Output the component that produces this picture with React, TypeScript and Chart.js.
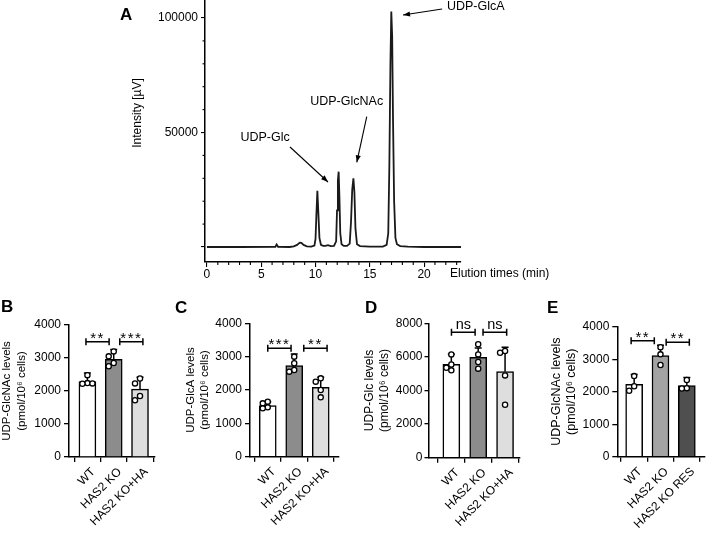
import React, { useEffect, useRef } from 'react';
import { Chart, registerables } from 'chart.js';
Chart.register(...registerables);

const FONT = '"Liberation Sans", Arial, Helvetica, sans-serif';
Chart.defaults.font.family = FONT;
Chart.defaults.color = '#000';

// ---------------- Panel A data (chromatogram) ----------------
const elutionTime = [0, 3, 6.3, 6.42, 6.55, 7.6, 8.0, 8.3, 8.55, 8.7, 8.9, 9.2, 9.6, 9.9, 10.0, 10.08, 10.17, 10.26, 10.36, 10.5, 10.7, 10.9, 11.15, 11.4, 11.7, 11.9, 11.98, 12.06, 12.13, 12.2, 12.28, 12.4, 12.6, 12.9, 13.15, 13.27, 13.38, 13.49, 13.58, 13.68, 13.82, 14.1, 15, 16.2, 16.55, 16.7, 16.8, 16.9, 16.98, 17.06, 17.14, 17.24, 17.36, 17.5, 17.8, 18.5, 20, 23.4];
const intensity = [0, 0, 100, 1100, 100, 0, 300, 900, 1900, 1800, 900, 300, 200, 600, 3500, 14000, 24600, 15000, 4000, 900, 500, 500, 800, 400, 500, 2500, 16000, 29000, 32900, 22000, 6000, 1200, 500, 500, 1500, 11000, 25000, 30000, 24000, 8000, 1200, 400, 200, 200, 900, 6000, 35000, 80000, 102800, 92000, 55000, 20000, 4000, 1200, 400, 150, 0, 0];
const aXTicks = [0, 5, 10, 15, 20];
const aYTicks = [0, 50000, 100000];
const peakNames = ['UDP-Glc', 'UDP-GlcNAc', 'UDP-GlcA'];

// ---------------- Panels B-E data ----------------
const groupsBCD = ['WT', 'HAS2 KO', 'HAS2 KO+HA'];
const groupsE = ['WT', 'HAS2 KO', 'HAS2 KO RES'];

const bMeans = [2289, 2957, 2056];
const bSD = [260, 300, 360];
const bPoints = [[2480, 2240, 2220, 2230], [3200, 3050, 2850, 2750], [2380, 2230, 1850, 1720]];
const bSig = [{ a: 0, b: 1, y: 3494, label: '**' }, { a: 1, b: 2, y: 3494, label: '***' }];

const cMeans = [1535, 2730, 2081];
const cSD = [110, 350, 300];
const cPoints = [[1650, 1600, 1480, 1450], [3000, 2800, 2600, 2550], [2350, 2250, 2000, 1780]];
const cSig = [{ a: 0, b: 1, y: 3250, label: '***' }, { a: 1, b: 2, y: 3250, label: '**' }];

const dMeans = [5556, 5972, 5119];
const dSD = [600, 560, 1450];
const dPoints = [[6150, 5550, 5350, 5200], [6750, 6150, 5700, 5300], [6350, 6250, 4900, 3150]];
const dSig = [{ a: 0, b: 1, y: 7464, label: 'ns' }, { a: 1, b: 2, y: 7464, label: 'ns' }];

const eMeans = [2226, 3108, 2185];
const eSD = [300, 320, 250];
const ePoints = [[2480, 2170, 2030], [3370, 3150, 2820], [2360, 2110, 2100]];
const eSig = [{ a: 0, b: 1, y: 3570, label: '**' }, { a: 1, b: 2, y: 3518, label: '**' }];

// ---------------- helpers ----------------
type Box = { l: number; t: number; w: number; h: number };
type Area = { l: number; t: number; r: number; b: number };

function drawArrow(ctx: CanvasRenderingContext2D, x1: number, y1: number, x2: number, y2: number) {
  ctx.beginPath();
  ctx.moveTo(x1, y1);
  ctx.lineTo(x2, y2);
  ctx.stroke();
  const a = Math.atan2(y2 - y1, x2 - x1);
  const L = 7, W = 2.6;
  ctx.beginPath();
  ctx.moveTo(x2, y2);
  ctx.lineTo(x2 - L * Math.cos(a) + W * Math.sin(a), y2 - L * Math.sin(a) - W * Math.cos(a));
  ctx.lineTo(x2 - L * Math.cos(a) - W * Math.sin(a), y2 - L * Math.sin(a) + W * Math.cos(a));
  ctx.closePath();
  ctx.fill();
}

function layoutFrom(box: Box, area: Area) {
  return {
    yAxisW: area.l - box.l,
    xAxisH: box.t + box.h - area.b,
    padding: { left: 0, top: area.t - box.t, right: box.l + box.w - area.r, bottom: 0 },
  };
}

// ---------------- Panel A ----------------
const A_BOX: Box = { l: 0, t: 0, w: 708, h: 300 };
const A_AREA: Area = { l: 205, t: 0, r: 461, b: 262 };
const A_ANN = [
  { text: [5.35, 48000], from: [7.65, 43670], to: [11.15, 28380], align: 'center' },
  { text: [12.87, 63450], from: [14.72, 56900], to: [13.8, 37000], align: 'center' },
  { text: [22.1, 104800], from: [21.66, 103900], to: [18.06, 101300], align: 'left' },
];

function buildA(canvas: HTMLCanvasElement) {
  const lay = layoutFrom(A_BOX, A_AREA);
  const decor = {
    id: 'decorA',
    afterDraw(chart: any) {
      const ctx: CanvasRenderingContext2D = chart.ctx;
      const xs = chart.scales.x, ys = chart.scales.y;
      const ca = chart.chartArea;
      ctx.save();
      ctx.strokeStyle = '#000';
      ctx.fillStyle = '#000';
      // minor ticks
      ctx.lineWidth = 1.1;
      for (let v = 1; v <= 23; v++) {
        if (v % 5 === 0) continue;
        const x = xs.getPixelForValue(v);
        ctx.beginPath(); ctx.moveTo(x, ca.bottom); ctx.lineTo(x, ca.bottom + 3); ctx.stroke();
      }
      for (let v = 10000; v <= 100000; v += 10000) {
        if (v % 50000 === 0) continue;
        const y = ys.getPixelForValue(v);
        ctx.beginPath(); ctx.moveTo(ca.left, y); ctx.lineTo(ca.left - 2.5, y); ctx.stroke();
      }
      // annotations
      ctx.font = `12.5px ${FONT}`;
      ctx.textBaseline = 'middle';
      ctx.lineWidth = 1.1;
      A_ANN.forEach((an, i) => {
        ctx.textAlign = an.align as CanvasTextAlign;
        ctx.fillText(peakNames[i], xs.getPixelForValue(an.text[0]), ys.getPixelForValue(an.text[1]));
        drawArrow(ctx, xs.getPixelForValue(an.from[0]), ys.getPixelForValue(an.from[1]), xs.getPixelForValue(an.to[0]), ys.getPixelForValue(an.to[1]));
      });
      // axis titles
      ctx.font = `12px ${FONT}`;
      ctx.textAlign = 'left';
      ctx.fillText('Elution times (min)', ca.right - 11, ca.bottom + 12);
      ctx.save();
      ctx.translate(138 - A_BOX.l, 113 - A_BOX.t);
      ctx.rotate(-Math.PI / 2);
      ctx.textAlign = 'center';
      ctx.fillText('Intensity [µV]', 0, 0);
      ctx.restore();
      // panel letter
      ctx.font = `bold 17px ${FONT}`;
      ctx.textBaseline = 'alphabetic';
      ctx.textAlign = 'left';
      ctx.fillText('A', 120 - A_BOX.l, 20 - A_BOX.t);
      ctx.restore();
    },
  };
  return new Chart(canvas, {
    type: 'line',
    data: {
      datasets: [{
        data: elutionTime.map((t, i) => ({ x: t, y: intensity[i] })),
        borderColor: '#1a1a1a',
        borderWidth: 1.8,
        pointRadius: 0,
        tension: 0,
        fill: false,
      }],
    },
    options: {
      responsive: false,
      animation: false,
      layout: { padding: lay.padding },
      plugins: { legend: { display: false }, tooltip: { enabled: false } },
      scales: {
        x: {
          type: 'linear',
          min: -0.18,
          max: 23.4,
          afterBuildTicks: (s: any) => { s.ticks = aXTicks.map((v) => ({ value: v })); },
          afterFit: (s: any) => { s.height = lay.xAxisH; s.paddingLeft = 0; s.paddingRight = 0; },
          ticks: { font: { size: 12, family: FONT }, color: '#000', padding: 0, maxRotation: 0, autoSkip: false, callback: (v: any) => String(v) },
          grid: { drawOnChartArea: false, tickLength: 5, color: '#000', lineWidth: 1.1 },
          border: { display: true, color: '#000', width: 1.5 },
        },
        y: {
          type: 'linear',
          min: -6550,
          max: 107860,
          afterBuildTicks: (s: any) => { s.ticks = aYTicks.map((v) => ({ value: v })); },
          afterFit: (s: any) => { s.width = lay.yAxisW; s.paddingTop = 0; s.paddingBottom = 0; },
          ticks: { font: { size: 12, family: FONT }, color: '#000', padding: 3, callback: (v: any) => (v === 0 ? '' : String(v)) },
          grid: { drawOnChartArea: false, tickLength: 4, color: '#000', lineWidth: 1.1 },
          border: { display: true, color: '#000', width: 1.5 },
        },
      },
    },
    plugins: [decor],
  });
}

// ---------------- Bar panels ----------------
type BarPanel = {
  letter: string;
  groups: string[];
  means: number[];
  sd: number[];
  points: number[][];
  sig: { a: number; b: number; y: number; label: string }[];
  yMax: number;
  yStep: number;
  title: string[];
  colors: string[];
  box: Box;
  area: Area;
  xRange: [number, number];
  letterPos: [number, number];
  titleX: [number, number];
  titleSize: number;
  bracketCenters: [number, number];
  yTickLen: number;
  yTickPad: number;
};

const BRACKET_HALF = 0.44;

const PANELS: BarPanel[] = [
  {
    letter: 'B', groups: groupsBCD, means: bMeans, sd: bSD, points: bPoints, sig: bSig,
    yMax: 4000, yStep: 1000, title: ['UDP-GlcNAc levels', '(pmol/10⁶ cells)'],
    colors: ['#ffffff', '#8c8c8c', '#dedede'],
    box: { l: 0, t: 280, w: 178, h: 253 }, area: { l: 69, t: 325, r: 155, b: 457 },
    xRange: [-0.7, 2.57], letterPos: [1, 312], titleX: [7, 22], titleSize: 11.5, bracketCenters: [0.385, 1.67],
    yTickLen: 5, yTickPad: 3,
  },
  {
    letter: 'C', groups: groupsBCD, means: cMeans, sd: cSD, points: cPoints, sig: cSig,
    yMax: 4000, yStep: 1000, title: ['UDP-GlcA levels', '(pmol/10⁶ cells)'],
    colors: ['#ffffff', '#8c8c8c', '#dedede'],
    box: { l: 175, t: 280, w: 180, h: 253 }, area: { l: 250, t: 323.3, r: 339, b: 456.7 },
    xRange: [-0.67, 2.69], letterPos: [175, 313], titleX: [191, 205], titleSize: 11.5, bracketCenters: [0.44, 1.8],
    yTickLen: 5, yTickPad: 3,
  },
  {
    letter: 'D', groups: groupsBCD, means: dMeans, sd: dSD, points: dPoints, sig: dSig,
    yMax: 8000, yStep: 2000, title: ['UDP-Glc levels', '(pmol/10⁶ cells)'],
    colors: ['#ffffff', '#8c8c8c', '#dedede'],
    box: { l: 355, t: 280, w: 180, h: 253 }, area: { l: 428.5, t: 323.3, r: 519.3, b: 457.7 },
    xRange: [-0.85, 2.53], letterPos: [365, 313], titleX: [370, 385], titleSize: 12, bracketCenters: [0.445, 1.62],
    yTickLen: 4, yTickPad: 2,
  },
  {
    letter: 'E', groups: groupsE, means: eMeans, sd: eSD, points: ePoints, sig: eSig,
    yMax: 4000, yStep: 1000, title: ['UDP-GlcNAc levels', '(pmol/10⁶ cells)'],
    colors: ['#ffffff', '#a3a3a3', '#4f4f4f'],
    box: { l: 535, t: 280, w: 173, h: 253 }, area: { l: 617.3, t: 326.7, r: 705, b: 456.7 },
    xRange: [-0.64, 2.69], letterPos: [547, 313], titleX: [557, 572], titleSize: 12.5, bracketCenters: [0.325, 1.655],
    yTickLen: 5, yTickPad: 3,
  },
];

function buildBar(canvas: HTMLCanvasElement, p: BarPanel) {
  const lay = layoutFrom(p.box, p.area);
  const decor = {
    id: 'decorBar',
    afterDatasetsDraw(chart: any) {
      const ctx: CanvasRenderingContext2D = chart.ctx;
      const xs = chart.scales.x, ys = chart.scales.y;
      ctx.save();
      ctx.strokeStyle = '#000';
      ctx.fillStyle = '#000';
      // error bars (upper)
      ctx.lineWidth = 1.5;
      p.means.forEach((m, i) => {
        const cx = xs.getPixelForValue(i);
        const y0 = ys.getPixelForValue(m);
        const y1 = ys.getPixelForValue(m + p.sd[i]);
        ctx.beginPath();
        ctx.moveTo(cx, y0); ctx.lineTo(cx, y1);
        ctx.moveTo(cx - 3.5, y1); ctx.lineTo(cx + 3.5, y1);
        ctx.stroke();
      });
      // individual points (simple beeswarm)
      const R = 2.6, MIN_D = 5, SP = 5;
      ctx.lineWidth = 1.3;
      p.points.forEach((vals, i) => {
        const cx = xs.getPixelForValue(i);
        const placed: { o: number; y: number }[] = [];
        vals.forEach((v) => {
          const py = ys.getPixelForValue(v);
          const cands = [0, -SP, SP, -2 * SP, 2 * SP];
          const off = cands.find((o) => placed.every((q) => Math.hypot(q.o - o, q.y - py) >= MIN_D)) ?? 0;
          placed.push({ o: off, y: py });
          ctx.beginPath();
          ctx.arc(cx + off, py, R, 0, Math.PI * 2);
          ctx.fillStyle = '#fff';
          ctx.fill();
          ctx.stroke();
        });
      });
      // significance brackets
      ctx.fillStyle = '#000';
      ctx.lineWidth = 1.5;
      ctx.textAlign = 'center';
      ctx.textBaseline = 'alphabetic';
      p.sig.forEach((s, k) => {
        const c = p.bracketCenters[k];
        const x1 = xs.getPixelForValue(c - BRACKET_HALF);
        const x2 = xs.getPixelForValue(c + BRACKET_HALF);
        const y = ys.getPixelForValue(s.y);
        ctx.beginPath();
        ctx.moveTo(x1, y); ctx.lineTo(x2, y);
        ctx.moveTo(x1, y - 3.5); ctx.lineTo(x1, y + 3.5);
        ctx.moveTo(x2, y - 3.5); ctx.lineTo(x2, y + 3.5);
        ctx.stroke();
        const isNs = s.label === 'ns';
        ctx.font = isNs ? `14.5px ${FONT}` : `15px ${FONT}`;
        (ctx as any).letterSpacing = isNs ? '0px' : '1.5px';
        ctx.fillText(s.label, (x1 + x2) / 2, isNs ? y - 3.5 : y + 1);
      });
      (ctx as any).letterSpacing = '0px';
      ctx.restore();
    },
    afterDraw(chart: any) {
      const ctx: CanvasRenderingContext2D = chart.ctx;
      const ca = chart.chartArea;
      ctx.save();
      ctx.fillStyle = '#000';
      // y title (two lines)
      ctx.font = `${p.titleSize}px ${FONT}`;
      ctx.textAlign = 'center';
      ctx.textBaseline = 'middle';
      const cy = (ca.top + ca.bottom) / 2;
      p.title.forEach((line, k) => {
        ctx.save();
        ctx.translate(p.titleX[k] - p.box.l, cy);
        ctx.rotate(-Math.PI / 2);
        ctx.fillText(line, 0, 0);
        ctx.restore();
      });
      // panel letter
      ctx.font = `bold 17px ${FONT}`;
      ctx.textAlign = 'left';
      ctx.textBaseline = 'alphabetic';
      ctx.fillText(p.letter, p.letterPos[0] - p.box.l, p.letterPos[1] - p.box.t);
      ctx.restore();
    },
  };
  return new Chart(canvas, {
    type: 'bar',
    data: {
      datasets: [{
        data: p.means.map((m, i) => ({ x: i, y: m })),
        backgroundColor: p.colors,
        borderColor: '#000',
        borderWidth: 1.5,
        barThickness: 17,
      } as any],
    },
    options: {
      responsive: false,
      animation: false,
      layout: { padding: lay.padding },
      plugins: { legend: { display: false }, tooltip: { enabled: false } },
      scales: {
        x: {
          type: 'linear',
          min: p.xRange[0],
          max: p.xRange[1],
          offset: false,
          afterBuildTicks: (s: any) => { s.ticks = p.groups.map((_, i) => ({ value: i })); },
          afterFit: (s: any) => { s.height = lay.xAxisH; s.paddingLeft = 0; s.paddingRight = 0; },
          ticks: {
            font: { size: 12, family: FONT }, color: '#000', padding: 3, labelOffset: 6,
            minRotation: 45, maxRotation: 45, autoSkip: false,
            callback: (v: any) => p.groups[Math.round(Number(v))] ?? '',
          },
          grid: { drawOnChartArea: false, tickLength: 5, color: '#000', lineWidth: 1.3 },
          border: { display: true, color: '#000', width: 1.5 },
        },
        y: {
          type: 'linear',
          min: 0,
          max: p.yMax,
          afterFit: (s: any) => { s.width = lay.yAxisW; s.paddingTop = 0; s.paddingBottom = 0; },
          ticks: { stepSize: p.yStep, font: { size: 12, family: FONT }, color: '#000', padding: p.yTickPad, callback: (v: any) => String(v) },
          grid: { drawOnChartArea: false, tickLength: p.yTickLen, color: '#000', lineWidth: 1.3 },
          border: { display: true, color: '#000', width: 1.5 },
        },
      },
    },
    plugins: [decor],
  });
}

function ChartCanvas({ box, build }: { box: Box; build: (c: HTMLCanvasElement) => Chart }) {
  const ref = useRef<HTMLCanvasElement>(null);
  useEffect(() => {
    const chart = build(ref.current as HTMLCanvasElement);
    return () => chart.destroy();
  }, []);
  return (
    <canvas
      ref={ref}
      width={box.w}
      height={box.h}
      style={{ position: 'absolute', left: box.l, top: box.t, width: box.w, height: box.h }}
    />
  );
}

export default function App() {
  return (
    <div style={{ position: 'fixed', left: 0, top: 0, width: 708, height: 533, background: '#fff', overflow: 'hidden' }}>
      <ChartCanvas box={A_BOX} build={buildA} />
      {PANELS.map((p) => (
        <ChartCanvas key={p.letter} box={p.box} build={(c) => buildBar(c, p)} />
      ))}
    </div>
  );
}
